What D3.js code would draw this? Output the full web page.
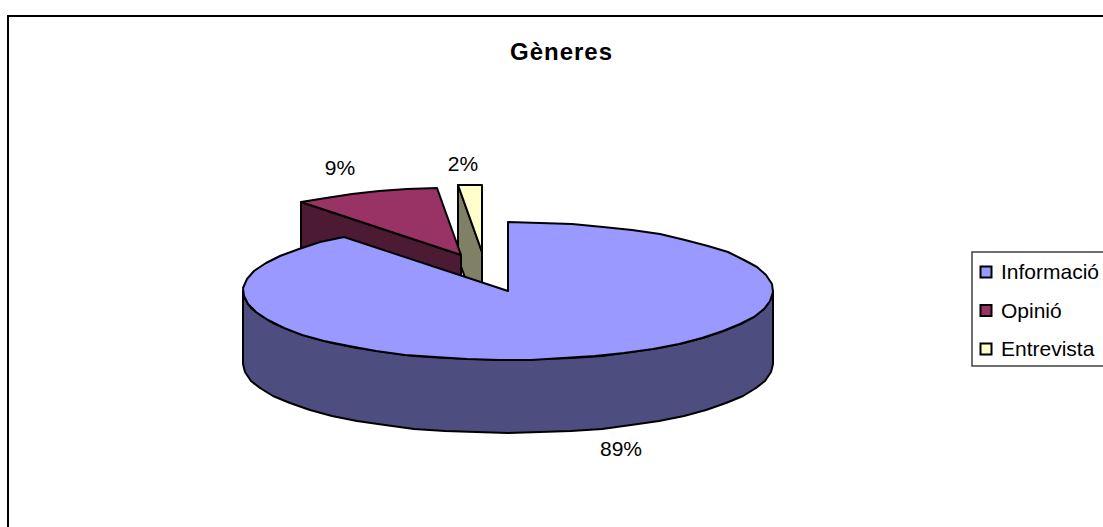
<!DOCTYPE html>
<html>
<head>
<meta charset="utf-8">
<script src="https://cdn.jsdelivr.net/npm/d3@7"></script>
<style>
	html, body { margin: 0; padding: 0; background: #fff; overflow: hidden; }
	text { font-family: "Liberation Sans", Arial, sans-serif; fill: #000; }
</style>
</head>
<body>
<div id="graph"></div>
<script>
var categories = ["Informació", "Opinió", "Entrevista"];
var shares = [89.4, 9.1, 1.5];
var chartTitle = "Gèneres";

var width = 1103, height = 527;
var center = {x: 508, y: 291}, rx = 265, ry = 69, depth = 73;
var topColors = ["#9999ff", "#993366", "#ffffcc"];
var sideColors = ["#4d4d80", "#4d1a33", "#808066"];

// exploded slices: pull of the apex and shrink of the radius for each slice
var explode = [{dx: 0, dy: 0, r: 1}, {dx: -47, dy: -36, r: 0.975}, {dx: -26, dy: -39, r: 0.975}];
var labelPos = [{x: 621, y: 449}, {x: 340, y: 168}, {x: 463, y: 164}];

var svg = d3.select("#graph").append("svg")
	.attr("width", width)
	.attr("height", height);

// chart frame, runs off the right and the bottom of the picture
svg.append("rect")
	.attr("x", 8).attr("y", 16)
	.attr("width", width + 20).attr("height", height + 20)
	.attr("fill", "#fff")
	.attr("stroke", "#000")
	.attr("stroke-width", 2);

svg.append("text")
	.attr("x", 561.5).attr("y", 60)
	.attr("text-anchor", "middle")
	.attr("font-size", 24)
	.attr("font-weight", "bold")
	.attr("letter-spacing", 1)
	.text(chartTitle);

var pie = d3.pie().sort(null);
var slices = pie(shares);

var line = d3.line();

function point(i, angle, drop) {
	var e = explode[i];
	return [
		Math.round(center.x + e.dx + rx * e.r * Math.sin(angle)),
		Math.round(center.y + e.dy + ry * e.r * -Math.cos(angle) + (drop || 0))
	];
}

// coarse outline, the original is a rough polyline too
function arcPoints(i, a0, a1, drop) {
	var pts = [];
	var step = 7 * Math.PI / 180;
	var n = Math.max(1, Math.ceil(Math.abs(a1 - a0) / step));
	for (var k = 0; k <= n; k++) {
		pts.push(point(i, a0 + (a1 - a0) * k / n, drop));
	}
	return pts;
}

function drawSide(pts, i) {
	svg.append("path")
		.attr("d", line(pts) + "Z")
		.attr("fill", sideColors[i])
		.attr("stroke", "#000")
		.attr("stroke-width", 2)
		.attr("stroke-linejoin", "round");
}

function drawTop(d, i) {
	var pts = [point(i, 0, 0)];
	pts[0] = [center.x + explode[i].dx, center.y + explode[i].dy];
	pts = pts.concat(arcPoints(i, d.startAngle, d.endAngle, 0));
	svg.append("path")
		.attr("d", line(pts) + "Z")
		.attr("fill", topColors[i])
		.attr("stroke", "#000")
		.attr("stroke-width", 2)
		.attr("stroke-linejoin", "round");
}

// cut face of an exploded slice: apex to the rim on its start angle, then dropped
function cutFace(d, i) {
	var apex = [center.x + explode[i].dx, center.y + explode[i].dy];
	var rim = point(i, d.startAngle, 0);
	return [apex, rim, [rim[0], rim[1] + depth], [apex[0], apex[1] + depth]];
}

// back to front
[2, 1].forEach(function(i) {
	drawSide(cutFace(slices[i], i), i);
	drawTop(slices[i], i);
});

// front wall of the big slice, right extreme round to the left extreme
var wall = arcPoints(0, Math.PI / 2, Math.PI * 1.5, 0)
	.concat(arcPoints(0, Math.PI * 1.5, Math.PI / 2, depth));
drawSide(wall, 0);
drawTop(slices[0], 0);

// value labels
slices.forEach(function(d, i) {
	svg.append("text")
		.attr("x", labelPos[i].x)
		.attr("y", labelPos[i].y)
		.attr("dy", "0.35em")
		.attr("text-anchor", "middle")
		.attr("font-size", 21)
		.text(Math.round(d.data) + "%");
});

// legend
var legendY = d3.scalePoint().domain(categories).range([272, 349]);

svg.append("rect")
	.attr("x", 972).attr("y", 252)
	.attr("width", 160).attr("height", 114)
	.attr("fill", "#fff")
	.attr("stroke", "#404040")
	.attr("stroke-width", 1.5);

categories.forEach(function(c, i) {
	svg.append("rect")
		.attr("x", 980.5).attr("y", legendY(c) - 5.5)
		.attr("width", 11).attr("height", 11)
		.attr("fill", topColors[i])
		.attr("stroke", "#000")
		.attr("stroke-width", 2);
	svg.append("text")
		.attr("x", 1001).attr("y", legendY(c))
		.attr("dy", "0.35em")
		.attr("font-size", 21)
		.text(c);
});
</script>
</body>
</html>
